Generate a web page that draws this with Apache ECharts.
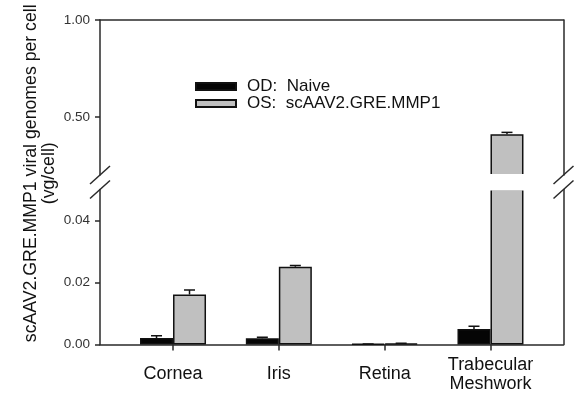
<!DOCTYPE html>
<html><head><meta charset="utf-8">
<script src="https://cdn.jsdelivr.net/npm/echarts@6/dist/echarts.min.js"></script>
<style>html,body{margin:0;padding:0;background:#fff}#c{width:574px;height:396px}</style>
</head><body><div id="c"></div>
<script>
const categories = ['Cornea', 'Iris', 'Retina', 'Trabecular\nMeshwork'];
const seriesNames = ['OD:  Naive', 'OS:  scAAV2.GRE.MMP1'];
const odValues = [0.0021, 0.0020, 0.0002, 0.0050];
const odErrors = [0.0007, 0.0003, 0.0000, 0.0009];
const osValues = [0.0161, 0.0251, 0.0003, 0.410];
const osErrors = [0.0015, 0.0004, 0.0001, 0.010];
const upperTicks = [0.5, 1.0];
const lowerTicks = [0, 0.02, 0.04];
const upperRange = [0.2, 1.0];
const lowerRange = [0, 0.05];
const yTitle = 'scAAV2.GRE.MMP1 viral genomes per cell\n(vg/cell)';

const FONT = '"Liberation Sans", Arial, sans-serif';
const xMin = -0.69, xMax = 3.69;
const catIdx = categories.map((c, i) => i);
const lineStyle = {color: '#2a2a2a', width: 1.5};
const BW = 33;

function barSeries(name, values, color, g, range) {
  return {
    type: 'bar', name: name, xAxisIndex: g, yAxisIndex: g * 2,
    data: values.map((v, i) => [i, v >= range[0] ? v : '-']),
    barWidth: BW, barGap: '0%',
    itemStyle: {color: color, borderColor: '#111', borderWidth: 1.5},
    emphasis: {disabled: true}, clip: true, z: 2
  };
}
function errSeries(values, errors, side, g, range) {
  const data = values.map((v, i) => [i, v, v + errors[i]])
    .filter(d => d[1] >= range[0] && d[2] <= range[1]);
  return {
    type: 'custom', xAxisIndex: g, yAxisIndex: g * 2, silent: true, clip: true, z: 3,
    data: data,
    renderItem: function (params, api) {
      const p0 = api.coord([api.value(0), api.value(1)]);
      const p1 = api.coord([api.value(0), api.value(2)]);
      const cx = p0[0] + side * BW / 2;
      return {type: 'group', children: [
        {type: 'line', shape: {x1: cx, y1: p0[1], x2: cx, y2: p1[1]}, style: {stroke: '#111', lineWidth: 1.5}},
        {type: 'line', shape: {x1: cx - 5.5, y1: p1[1], x2: cx + 5.5, y2: p1[1]}, style: {stroke: '#111', lineWidth: 1.5}}
      ]};
    }
  };
}

const yLabel = {fontSize: 13.5, color: '#333', fontFamily: FONT, margin: 10, formatter: v => v.toFixed(2)};
const option = {
  animation: false,
  grid: [
    {left: 100, right: 10.5, top: 20, height: 155},
    {left: 100, right: 10.5, top: 189.5, height: 155}
  ],
  legend: {
    data: seriesNames, left: 195, top: 78, padding: 0, orient: 'vertical', icon: 'rect',
    itemWidth: 40, itemHeight: 7, itemGap: 0, selectedMode: false,
    textStyle: {fontSize: 17, color: '#111', fontFamily: FONT, padding: [0, 0, 0, 6]}
  },
  xAxis: [
    {gridIndex: 0, type: 'value', min: xMin, max: xMax, position: 'top',
      axisLine: {show: true, onZero: false, lineStyle: lineStyle}, axisTick: {show: false},
      axisLabel: {show: false}, splitLine: {show: false}},
    {gridIndex: 1, type: 'value', min: xMin, max: xMax, position: 'bottom',
      axisLine: {show: true, onZero: false, lineStyle: lineStyle},
      axisTick: {show: true, customValues: catIdx, length: 6, lineStyle: lineStyle},
      axisLabel: {customValues: catIdx, formatter: v => categories[Math.round(v)],
        fontSize: 18, color: '#111', fontFamily: FONT, margin: 30, verticalAlign: 'middle', lineHeight: 19},
      splitLine: {show: false}}
  ],
  yAxis: [
    {gridIndex: 0, type: 'value', min: upperRange[0], max: upperRange[1], position: 'left',
      axisLine: {show: true, onZero: false, lineStyle: lineStyle},
      axisTick: {show: true, customValues: upperTicks, length: 5, lineStyle: lineStyle},
      axisLabel: Object.assign({customValues: upperTicks}, yLabel), splitLine: {show: false}},
    {gridIndex: 0, type: 'value', min: upperRange[0], max: upperRange[1], position: 'right',
      axisLine: {show: true, onZero: false, lineStyle: lineStyle}, axisTick: {show: false},
      axisLabel: {show: false}, splitLine: {show: false}},
    {gridIndex: 1, type: 'value', min: lowerRange[0], max: lowerRange[1], position: 'left',
      axisLine: {show: true, onZero: false, lineStyle: lineStyle},
      axisTick: {show: true, customValues: lowerTicks, length: 5, lineStyle: lineStyle},
      axisLabel: Object.assign({customValues: lowerTicks}, yLabel), splitLine: {show: false}},
    {gridIndex: 1, type: 'value', min: lowerRange[0], max: lowerRange[1], position: 'right',
      axisLine: {show: true, onZero: false, lineStyle: lineStyle}, axisTick: {show: false},
      axisLabel: {show: false}, splitLine: {show: false}}
  ],
  series: [
    barSeries(seriesNames[0], odValues, '#050505', 0, upperRange),
    barSeries(seriesNames[1], osValues, '#c0c0c0', 0, upperRange),
    barSeries(seriesNames[0], odValues, '#050505', 1, lowerRange),
    barSeries(seriesNames[1], osValues, '#c0c0c0', 1, lowerRange),
    errSeries(odValues, odErrors, -1, 0, upperRange),
    errSeries(osValues, osErrors, 1, 0, upperRange),
    errSeries(odValues, odErrors, -1, 1, lowerRange),
    errSeries(osValues, osErrors, 1, 1, lowerRange)
  ]
};

const chart = echarts.init(document.getElementById('c'), null, {renderer: 'canvas'});
chart.setOption(option);

const xl = chart.convertToPixel({xAxisIndex: 1}, xMin);
const xr = chart.convertToPixel({xAxisIndex: 1}, xMax);
const yU = chart.convertToPixel({yAxisIndex: 0}, upperRange[0]);
const yL = chart.convertToPixel({yAxisIndex: 2}, lowerRange[1]);
const deco = [
  {type: 'rect', shape: {x: xl + 1, y: yU - 1, width: xr - xl - 2, height: yL - yU + 2},
    style: {fill: '#fff'}, z: 5, silent: true}
];
[xl, xr].forEach(x => [yU, yL].forEach(y => {
  deco.push({type: 'line', shape: {x1: x - 10, y1: y + 9, x2: x + 10, y2: y - 9},
    style: {stroke: '#2a2a2a', lineWidth: 1.5}, z: 10, silent: true});
}));
deco.push({type: 'text', x: 40, y: (20 + 344.5) / 2 - 9, rotation: Math.PI / 2,
  style: {text: yTitle, fontSize: 17.7, fontFamily: FONT, fill: '#111',
    align: 'center', verticalAlign: 'middle', lineHeight: 18.5}});
chart.setOption({graphic: deco});
</script></body></html>
